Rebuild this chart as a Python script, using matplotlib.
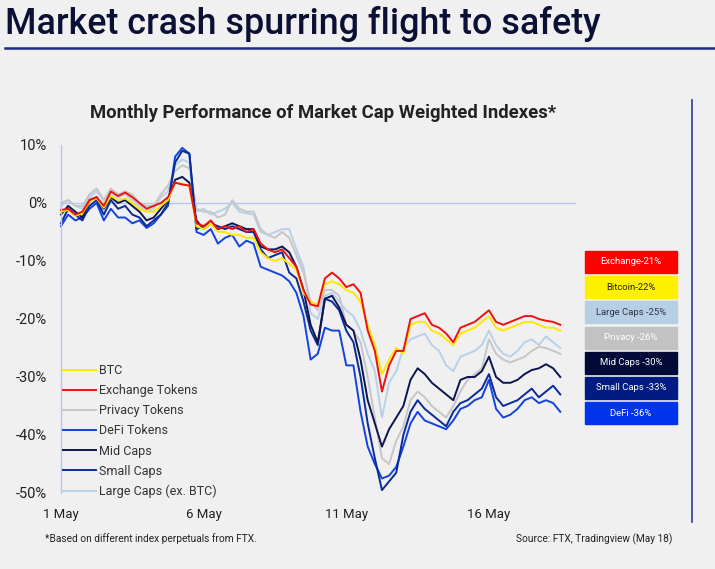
import numpy as np
import matplotlib.pyplot as plt
from matplotlib.lines import Line2D

plt.rcParams['font.family'] = ['Roboto', 'DejaVu Sans']

# dias desde 1 de maio, passo de 6 horas
dias = np.arange(71) * 0.25

btc = [-1.5, -1.2, -2.2, -1.8, 0.3, 0.8, -0.8, 1.2, 0.5, 0.8, 0.0, -1.0, -1.5, -1.5, -0.5, 0.5,
       3.5, 3.3, 3.0, -4.0, -4.5, -3.5, -5.0, -5.0, -5.5, -5.5, -6.0, -6.0, -8.5, -9.5, -10.0,
       -9.5, -10.5, -11.5, -15.5, -17.0, -17.5, -14.0, -13.5, -14.0, -15.0, -15.5, -17.0, -21.0,
       -24.5, -29.5, -27.0, -25.0, -26.0, -21.0, -20.5, -20.5, -22.0, -22.5, -23.5, -24.5, -22.5,
       -22.0, -21.5, -20.5, -19.5, -21.5, -22.0, -21.5, -21.0, -20.5, -20.5, -21.0, -21.5, -21.5, -22.0]

exchange = [-1.2, -1.0, -2.0, -1.5, 0.5, 1.0, -0.5, 2.0, 1.2, 1.8, 1.0, 0.0, -1.0, -0.5, 0.0, 1.0,
            3.5, 3.2, 3.0, -3.5, -4.0, -3.0, -4.5, -4.0, -4.5, -4.0, -5.0, -4.5, -7.0, -8.0, -8.5,
            -8.0, -9.5, -11.0, -15.0, -17.5, -17.8, -13.0, -12.0, -13.0, -14.5, -14.0, -15.5, -22.0,
            -25.5, -32.5, -28.0, -25.5, -25.5, -20.0, -19.5, -19.0, -21.0, -21.5, -22.5, -24.0, -21.5,
            -21.0, -20.5, -19.5, -18.5, -20.5, -21.0, -20.5, -20.0, -19.5, -19.5, -20.0, -20.3, -20.5, -21.0]

privacy = [0.0, 0.5, -0.5, -0.5, 1.5, 2.5, 0.5, 2.5, 1.5, 2.0, 1.5, 0.0, -0.5, -0.5, 1.5, 3.0,
           5.5, 6.5, 6.0, -1.0, -1.5, -1.5, -2.5, -2.0, 0.5, -1.0, -1.5, -1.5, -4.5, -5.5, -6.0,
           -5.0, -6.0, -9.0, -12.0, -17.0, -18.5, -15.0, -15.0, -16.0, -21.0, -22.0, -24.0, -30.0,
           -37.0, -44.0, -45.0, -41.0, -38.5, -34.0, -32.5, -33.5, -35.0, -36.0, -37.0, -35.0, -32.5,
           -30.5, -29.5, -28.5, -23.5, -26.0, -27.0, -27.5, -27.0, -26.5, -25.5, -24.8, -25.0, -25.5, -26.0]

defi = [-4.0, -2.0, -3.0, -2.5, -1.0, 0.0, -3.0, -1.0, -2.5, -2.5, -3.5, -3.0, -4.3, -3.5, -2.0, -0.5,
        8.0, 9.5, 8.5, -5.0, -5.5, -4.5, -7.0, -6.0, -5.5, -7.5, -6.5, -7.0, -11.0, -11.5, -12.0,
        -12.5, -13.5, -15.5, -19.5, -27.0, -26.0, -21.5, -22.0, -22.0, -28.0, -28.0, -36.0, -42.0,
        -45.0, -47.5, -47.0, -45.5, -42.0, -38.0, -36.0, -37.5, -38.0, -38.5, -39.0, -37.5, -35.5,
        -35.0, -34.0, -33.5, -30.5, -35.5, -37.0, -36.5, -35.5, -34.0, -33.5, -34.5, -34.0, -34.5, -36.0]

mid_caps = [-2.0, -0.5, -1.5, -2.5, 0.5, 1.0, -1.0, 1.0, 0.0, 0.5, -0.5, -1.5, -3.0, -2.5, -1.0, 0.5,
            4.0, 4.5, 3.5, -3.0, -4.5, -3.5, -4.5, -4.0, -3.5, -4.0, -4.5, -4.5, -7.5, -8.0, -8.0,
            -7.5, -8.5, -11.0, -15.0, -21.0, -24.0, -16.5, -16.0, -18.0, -21.0, -22.0, -27.0, -34.0,
            -38.0, -42.0, -39.0, -37.0, -35.0, -30.5, -28.5, -29.5, -31.0, -32.0, -33.0, -34.0, -30.5,
            -30.0, -30.0, -29.0, -26.5, -30.0, -31.0, -31.0, -30.5, -29.5, -28.8, -28.5, -27.8, -28.5, -30.0]

small_caps = [-3.5, -1.0, -2.0, -3.0, -0.5, 0.5, -2.0, 0.5, -1.0, -0.5, -2.0, -2.5, -4.0, -3.0, -2.0, 0.0,
              7.0, 9.0, 8.5, -4.5, -4.0, -3.5, -4.0, -4.5, -4.0, -4.5, -5.0, -5.0, -8.0, -9.5, -9.0,
              -8.5, -12.0, -13.0, -17.0, -22.0, -24.5, -16.5, -17.0, -18.5, -22.0, -24.0, -30.0, -38.0,
              -44.0, -49.5, -48.0, -46.5, -40.0, -36.0, -34.0, -35.5, -36.5, -37.5, -38.5, -36.0, -34.5,
              -34.0, -33.0, -32.0, -29.5, -33.5, -35.0, -34.5, -34.0, -33.0, -32.0, -33.5, -32.5, -31.5, -33.0]

large_caps = [-0.5, 0.5, -0.5, -1.0, 1.0, 2.0, 0.5, 1.5, 1.0, 1.5, 0.5, -0.5, -1.5, -1.0, 1.0, 2.0,
              6.5, 7.5, 7.0, -1.5, -1.0, -2.0, -1.5, -1.0, 0.0, -1.5, -1.8, -2.0, -5.0, -5.5, -5.0,
              -4.5, -4.5, -8.0, -11.0, -19.0, -20.0, -16.0, -15.5, -17.0, -18.5, -19.5, -22.0, -26.0,
              -29.0, -37.0, -31.0, -29.0, -25.0, -23.5, -23.0, -22.5, -24.5, -25.5, -28.0, -29.0, -26.5,
              -26.0, -25.5, -24.5, -22.0, -24.5, -26.0, -26.5, -25.5, -24.0, -23.5, -24.5, -23.0, -24.0, -25.0]

series = {
    'BTC': (btc, '#ffe800'),
    'Exchange Tokens': (exchange, '#f01010'),
    'Privacy Tokens': (privacy, '#c6c6c8'),
    'DeFi Tokens': (defi, '#1242e0'),
    'Mid Caps': (mid_caps, '#0b1552'),
    'Small Caps': (small_caps, '#0a2a96'),
    'Large Caps (ex. BTC)': (large_caps, '#b9d1e8'),
}
ordem_desenho = ['Large Caps (ex. BTC)', 'Privacy Tokens', 'DeFi Tokens', 'Small Caps',
                 'Mid Caps', 'BTC', 'Exchange Tokens']

caixas = ['Exchange-21%', 'Bitcoin-22%', 'Large Caps -25%', 'Privacy -26%',
          'Mid Caps -30%', 'Small Caps -33%', 'DeFi -36%']
cores_caixas = ['#ff0000', '#fff000', '#b6cfe4', '#c2c2c2', '#020b38', '#001c82', '#0034ec']
cores_texto = ['white', '#222222', '#333344', 'white', 'white', 'white', 'white']

ticks_x = [0, 5, 10, 15]
rotulos_x = ['1 May', '6 May', '11 May', '16 May']
ticks_y = [10, 0, -10, -20, -30, -40, -50]

fundo = '#f0f0f0'
W, H = 715, 569
fig = plt.figure(figsize=(W / 100, H / 100), dpi=100, facecolor=fundo)

# titulo principal
fig.text(5 / W, 1 - 24 / H, 'Market crash spurring flight to safety', fontsize=25.8,
         fontweight='medium', color='#0b1035', va='center', ha='left')
fig.add_artist(Line2D([5 / W, 1], [1 - 48 / H, 1 - 48 / H], color='#1c2a80', lw=1.8))
fig.add_artist(Line2D([692 / W, 692 / W], [1 - 100 / H, 1 - 522 / H], color='#3a4a9a', lw=1.3))

fig.text(323 / W, 1 - 113 / H, 'Monthly Performance of Market Cap Weighted Indexes*',
         fontsize=13.3, fontweight='bold', color='#222222', ha='center', va='center')

ax = fig.add_axes([61 / W, 1 - 493 / H, (576 - 61) / W, (493 - 145) / H])
ax.set_facecolor(fundo)
ax.set_xlim(0, (576 - 61) / 28.53)
ax.set_ylim(-50, 10)

linhas = {}
for nome in ordem_desenho:
    valores, cor = series[nome]
    linhas[nome], = ax.plot(dias, valores, color=cor, lw=1.4, clip_on=False, label=nome)

ax.axhline(0, color='#b8c4f4', lw=1, zorder=0)
for lado in ['top', 'right', 'bottom']:
    ax.spines[lado].set_visible(False)
ax.spines['left'].set_color('#b8c4f4')
ax.spines['left'].set_linewidth(1)

ax.set_xticks(ticks_x)
ax.set_xticklabels(rotulos_x, fontsize=9.5)
ax.set_yticks(ticks_y)
ax.set_yticklabels([f'{v}%' for v in ticks_y], fontsize=10.5)
ax.tick_params(length=0, labelcolor='#222222')
ax.tick_params(axis='y', pad=10)
ax.tick_params(axis='x', pad=11)

nomes_legenda = list(series.keys())
ax.legend([linhas[n] for n in nomes_legenda], nomes_legenda, loc='upper left',
          bbox_to_anchor=(63 / W, 1 - 364 / H), bbox_transform=fig.transFigure,
          frameon=False, fontsize=9, handlelength=2.6, handletextpad=0.3,
          labelspacing=0.57, borderpad=0, borderaxespad=0, labelcolor='#333333')

# caixas com o desempenho final
for i, (txt, cor, ctxt) in enumerate(zip(caixas, cores_caixas, cores_texto)):
    topo = 251 + i * 25.2
    fig.patches.append(plt.Rectangle((585 / W, 1 - (topo + 22) / H), 92 / W, 22 / H,
                                     transform=fig.transFigure, color=cor, zorder=2))
    fig.text(631 / W, 1 - (topo + 11) / H, txt, fontsize=6.8, color=ctxt,
             ha='center', va='center', zorder=3)

fig.text(45 / W, 1 - 539 / H, '*Based on different index perpetuals from FTX.',
         fontsize=7.3, color='#222222', va='center', ha='left')
fig.text(672 / W, 1 - 539 / H, 'Source: FTX, Tradingview (May 18)',
         fontsize=7.3, color='#222222', va='center', ha='right')

fig.savefig('out.png', dpi=100, facecolor=fundo)
